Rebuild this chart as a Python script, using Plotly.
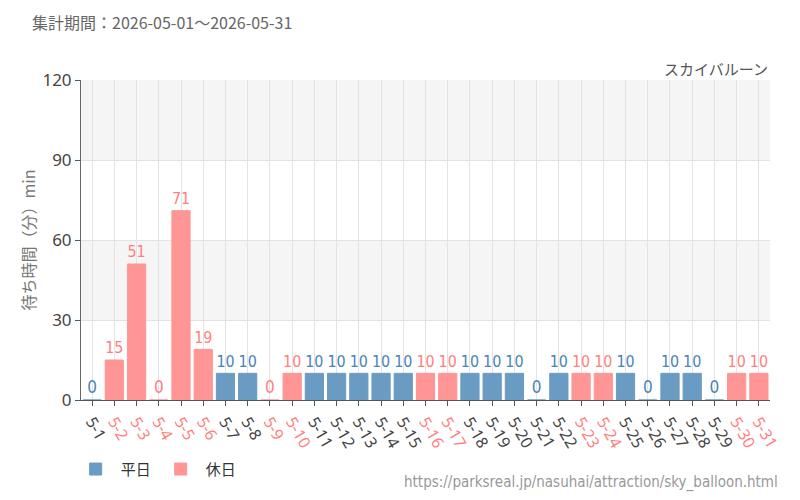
import plotly.graph_objects as go

days = [f"5-{d}" for d in range(1, 32)]
holiday_days = ["5-2", "5-3", "5-4", "5-5", "5-6", "5-9", "5-10", "5-16", "5-17",
                "5-23", "5-24", "5-30", "5-31"]

weekday_vals = {"5-1": 0, "5-7": 10, "5-8": 10, "5-11": 10, "5-12": 10, "5-13": 10,
                "5-14": 10, "5-15": 10, "5-18": 10, "5-19": 10, "5-20": 10, "5-21": 0,
                "5-22": 10, "5-25": 10, "5-26": 0, "5-27": 10, "5-28": 10, "5-29": 0}
holiday_vals = {"5-2": 15, "5-3": 51, "5-4": 0, "5-5": 71, "5-6": 19, "5-9": 0,
                "5-10": 10, "5-16": 10, "5-17": 10, "5-23": 10, "5-24": 10,
                "5-30": 10, "5-31": 10}

y_ticks = [0, 30, 60, 90, 120]

BLUE = "#6a9bc3"
PINK = "#ff9595"
BLUE_TXT = "#4a84b8"
PINK_TXT = "#ff7f7f"
NARROW = "DejaVu Sans Condensed, Liberation Sans Narrow, sans-serif"
JP = "Noto Sans CJK JP, sans-serif"

fig = go.Figure()
wx = [d for d in days if d in weekday_vals]
hx = [d for d in days if d in holiday_vals]
fig.add_bar(x=wx, y=[weekday_vals[d] for d in wx], name="平日",
            marker=dict(color=BLUE, line=dict(color=BLUE, width=1)),
            text=[str(weekday_vals[d]) for d in wx], textposition="outside",
            textfont=dict(family=NARROW, size=17, color=BLUE_TXT), cliponaxis=False)
fig.add_bar(x=hx, y=[holiday_vals[d] for d in hx], name="休日",
            marker=dict(color=PINK, line=dict(color=PINK, width=1)),
            text=[str(holiday_vals[d]) for d in hx], textposition="outside",
            textfont=dict(family=NARROW, size=17, color=PINK_TXT), cliponaxis=False)

ticktext = [f"<span style='color:{PINK_TXT}'>{d}</span>" if d in holiday_days else d for d in days]

# background bands
for lo, hi in [(30, 60), (90, 120)]:
    fig.add_shape(type="rect", xref="paper", yref="y", x0=0, x1=1, y0=lo, y1=hi,
                  fillcolor="#f5f5f5", line_width=0, layer="below")

fig.update_layout(
    width=800, height=500,
    margin=dict(l=81, r=30, t=80, b=100),
    plot_bgcolor="white", paper_bgcolor="white",
    barmode="relative", bargap=0.18,
    font=dict(family=JP, color="#444"),
    showlegend=True,
    legend=dict(orientation="h", x=-0.015, xanchor="left", y=-0.165, yanchor="top",
                font=dict(family=JP, size=15, color="#333"), traceorder="normal",
                itemwidth=40),
    xaxis=dict(type="category", categoryorder="array", categoryarray=days,
               tickmode="array", tickvals=days, ticktext=ticktext, tickangle=60,
               tickfont=dict(family="Noto Sans, sans-serif", size=16, color="#444"),
               showgrid=True, gridcolor="#e3e3e3", gridwidth=1,
               ticks="outside", ticklen=5, tickcolor="#555",
               showline=True, linecolor="#555", linewidth=1, zeroline=False),
    yaxis=dict(range=[0, 120], tickvals=y_ticks, ticks="outside", ticklen=5,
               tickcolor="#555", tickfont=dict(family="Noto Sans, sans-serif", size=17, color="#444"),
               showgrid=True, gridcolor="#e3e3e3", showline=True, linecolor="#666",
               linewidth=1, zeroline=False,
               title=dict(text="待ち時間（分）min", font=dict(family=JP, size=16, color="#777"),
                          standoff=2)),
)

fig.add_annotation(text="集計期間：2026-05-01～2026-05-31", xref="paper", yref="paper",
                   x=-(81 - 30) / 689, y=1 + (80 - 22) / 320, xanchor="left", yanchor="middle",
                   showarrow=False, font=dict(family=JP, size=16, color="#666"))
fig.add_annotation(text="スカイバルーン", xref="paper", yref="paper",
                   x=1, y=1 + (80 - 69) / 320, xanchor="right", yanchor="middle",
                   showarrow=False, font=dict(family=JP, size=15, color="#555"))
fig.add_annotation(text="https://parksreal.jp/nasuhai/attraction/sky_balloon.html",
                   xref="paper", yref="paper", x=1 + 10 / 689, y=-(482 - 400) / 320,
                   xanchor="right", yanchor="middle", showarrow=False,
                   font=dict(family=NARROW, size=15, color="#999"))

fig.write_html("out.html")
